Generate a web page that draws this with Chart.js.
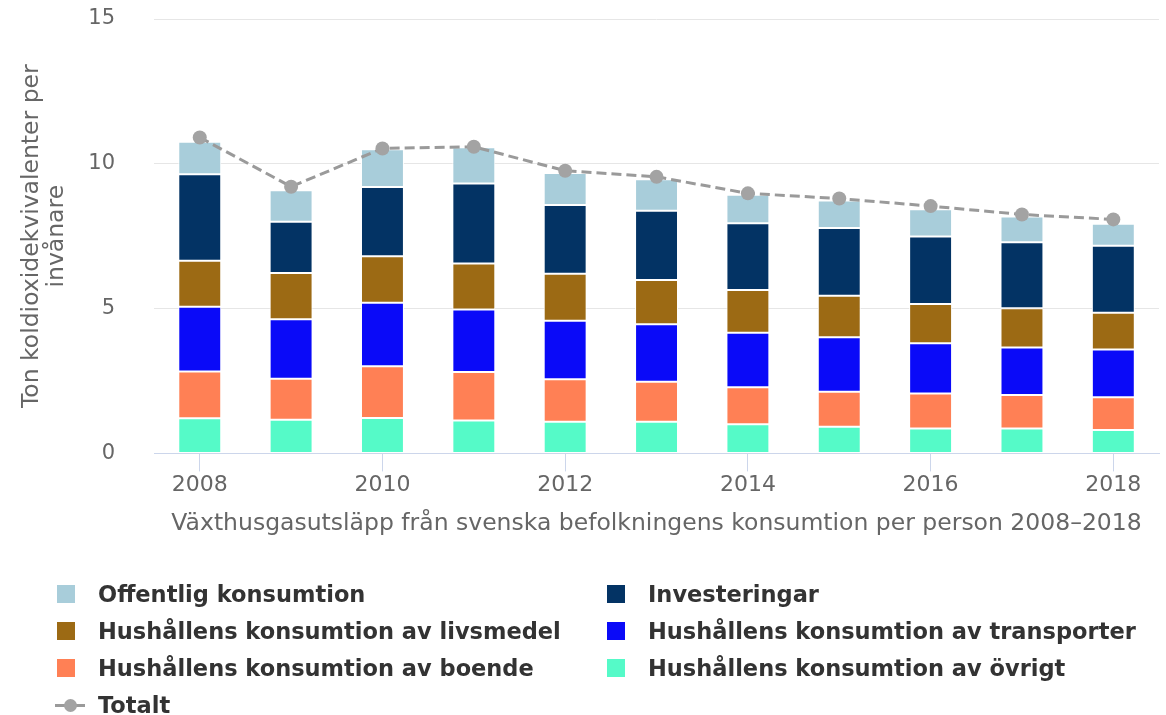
<!DOCTYPE html>
<html>
<head>
<meta charset="utf-8">
<script src="https://cdn.jsdelivr.net/npm/chart.js@4.4.1/dist/chart.umd.min.js"></script>
<style>
  html, body { margin: 0; padding: 0; background: #fff; }
  #wrap { position: relative; width: 1166px; height: 715px; }
  #legend {
    position: absolute; left: 55px; top: 575px;
    display: grid; grid-template-columns: 550px 550px; grid-auto-rows: 37px;
    font-family: "DejaVu Sans", sans-serif; font-weight: bold; font-size: 22.5px; color: #333;
  }
  #legend .item { display: flex; align-items: center; white-space: nowrap; }
  #legend .sym { position: relative; width: 43px; height: 20px; flex: none; }
  #legend .box { position: absolute; left: 2px; top: 1px; width: 18px; height: 18px; }
  #legend .ln { position: absolute; left: 0; top: 9px; width: 30px; height: 3px; }
  #legend .dot { position: absolute; left: 9px; top: 4px; width: 13px; height: 13px; border-radius: 50%; }
</style>
</head>
<body>
<div id="wrap">
  <canvas id="chart" width="1166" height="715"></canvas>
  <div id="legend"></div>
</div>
<script>
// years on the x axis
const years = ['2008','2009','2010','2011','2012','2013','2014','2015','2016','2017','2018'];

// stacked parts, bottom to top (ton CO2e per person)
const ovrigt       = [1.21, 1.16, 1.22, 1.14, 1.09, 1.09, 1.01, 0.92, 0.86, 0.86, 0.81];
const boende       = [1.62, 1.42, 1.79, 1.67, 1.47, 1.38, 1.27, 1.21, 1.21, 1.16, 1.13];
const transporter  = [2.23, 2.05, 2.19, 2.16, 2.02, 1.99, 1.89, 1.88, 1.73, 1.64, 1.65];
const livsmedel    = [1.59, 1.60, 1.61, 1.59, 1.62, 1.53, 1.47, 1.43, 1.36, 1.35, 1.27];
const investeringar= [2.99, 1.77, 2.39, 2.76, 2.38, 2.39, 2.31, 2.34, 2.33, 2.28, 2.31];
const offentlig    = [1.12, 1.09, 1.30, 1.25, 1.10, 1.09, 0.98, 0.95, 0.94, 0.89, 0.76];
const totalt       = [10.91, 9.21, 10.53, 10.59, 9.76, 9.55, 8.98, 8.80, 8.54, 8.25, 8.08];

const yTicks = [0, 5, 10, 15];

const font = 'DejaVu Sans';
const grey = '#666';

function bar(label, data, color) {
  return {
    type: 'bar', label: label, data: data, backgroundColor: color,
    borderColor: '#fff', borderWidth: 1, borderSkipped: false,
    stack: 'parts', order: 1,
    barPercentage: 0.47, categoryPercentage: 1
  };
}

const ctx = document.getElementById('chart').getContext('2d');
const chart = new Chart(ctx, {
  data: {
    labels: years,
    datasets: [
      bar('Hushållens konsumtion av övrigt', ovrigt, '#55fac8'),
      bar('Hushållens konsumtion av boende', boende, '#ff8055'),
      bar('Hushållens konsumtion av transporter', transporter, '#0a0af8'),
      bar('Hushållens konsumtion av livsmedel', livsmedel, '#9c6a14'),
      bar('Investeringar', investeringar, '#033364'),
      bar('Offentlig konsumtion', offentlig, '#a8cdda'),
      {
        type: 'line', label: 'Totalt', data: totalt, stack: 'total', order: 0,
        borderColor: '#9a9a9a', borderWidth: 3, borderDash: [10, 5],
        pointRadius: 7, pointHoverRadius: 7, pointBorderWidth: 0,
        pointBackgroundColor: '#a3a3a3', backgroundColor: '#a3a3a3',
        tension: 0, fill: false
      }
    ]
  },
  options: {
    responsive: false,
    animation: false,
    layout: { padding: { top: 19, right: 4, bottom: 173, left: 15 } },
    plugins: {
      legend: { display: false },
      tooltip: { enabled: false }
    },
    scales: {
      x: {
        stacked: true,
        border: { color: '#ccd6eb', width: 1 },
        grid: {
          offset: false,
          drawOnChartArea: false, drawTicks: true, tickLength: 18,
          tickColor: c => (c.index % 2 === 0 ? '#ccd6eb' : 'rgba(0,0,0,0)')
        },
        ticks: {
          autoSkip: false, maxRotation: 0, padding: 1,
          color: grey, font: { family: font, size: 22 },
          callback: function (v, i) { return i % 2 === 0 ? this.getLabelForValue(v) : ''; }
        },
        title: {
          display: true,
          text: 'Växthusgasutsläpp från svenska befolkningens konsumtion per person 2008–2018',
          color: grey, font: { family: font, size: 23.5 },
          padding: { top: 10, bottom: 4 }
        }
      },
      y: {
        stacked: true,
        min: 0, max: 15,
        afterBuildTicks: s => { s.ticks = yTicks.map(v => ({ value: v })); },
        border: { display: false },
        grid: { color: '#e6e6e6', drawTicks: true, tickLength: 39, tickColor: 'rgba(0,0,0,0)' },
        ticks: { padding: 0, color: grey, font: { family: font, size: 21 } },
        title: {
          display: true,
          text: ['Ton koldioxidekvivalenter per', 'invånare'],
          color: grey, font: { family: font, size: 23.5, lineHeight: 1.05 },
          padding: { top: 5, bottom: 19 }
        }
      }
    }
  }
});

// legend in two columns, top of the stack first, then Totalt
const legend = document.getElementById('legend');
const items = chart.data.datasets.slice(0, 6).reverse().concat(chart.data.datasets.slice(6));
items.forEach(ds => {
  const item = document.createElement('div');
  item.className = 'item';
  const sym = document.createElement('span');
  sym.className = 'sym';
  if (ds.type === 'line') {
    sym.innerHTML = '<span class="ln" style="background:' + ds.borderColor + '"></span>' +
                    '<span class="dot" style="background:' + ds.pointBackgroundColor + '"></span>';
  } else {
    sym.innerHTML = '<span class="box" style="background:' + ds.backgroundColor + '"></span>';
  }
  const txt = document.createElement('span');
  txt.textContent = ds.label;
  item.appendChild(sym);
  item.appendChild(txt);
  legend.appendChild(item);
});
</script>
</body>
</html>
